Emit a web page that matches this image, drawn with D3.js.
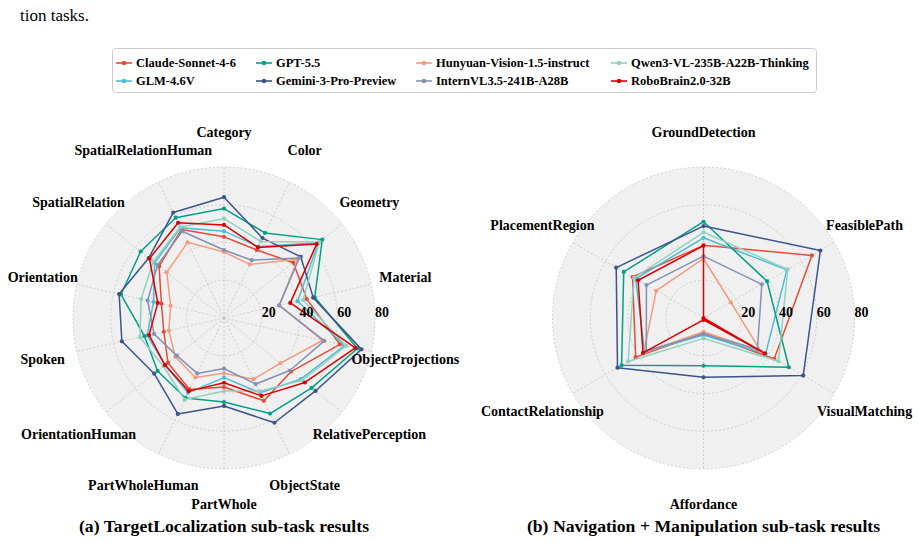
<!DOCTYPE html>
<html>
<head>
<meta charset="utf-8">
<script src="https://cdn.jsdelivr.net/npm/d3@7"></script>
<style>
  body { margin: 0; background: #fff; }
  svg text { font-family: "Liberation Serif", "Times New Roman", serif; fill: #000; }
</style>
</head>
<body>
<svg id="chart" width="918" height="542"></svg>
<script>
// ---------- DATA ----------
const models = [
  'Claude-Sonnet-4-6', 'GLM-4.6V', 'GPT-5.5', 'Gemini-3-Pro-Preview',
  'Hunyuan-Vision-1.5-instruct', 'InternVL3.5-241B-A28B',
  'Qwen3-VL-235B-A22B-Thinking', 'RoboBrain2.0-32B'
];
const modelColors = ['#E64B35', '#4DBBD5', '#00A087', '#3C5488', '#F39B7F', '#8491B4', '#91D1C2', '#DC0000'];

const catsA = [
  'Category', 'Color', 'Geometry', 'Material', 'ObjectProjections', 'RelativePerception',
  'ObjectState', 'PartWhole', 'PartWholeHuman', 'OrientationHuman', 'Spoken',
  'Orientation', 'SpatialRelation', 'SpatialRelationHuman'
];
const catsB = ['GroundDetection', 'FeasiblePath', 'VisualMatching', 'Affordance', 'ContactRelationship', 'PlacementRegion'];
const radialTicks = [20, 40, 60, 80];

// (a) TargetLocalization
const claudeA   = [43, 40, 47, 45, 63, 45.5, 48.7, 36.6, 42, 38, 32.7, 34, 44, 52];
const glmA      = [46, 42, 64, 40, 65.5, 52, 44, 31.6, 44, 40, 41.7, 38.3, 47, 53];
const gptA      = [58, 50, 66.6, 49.3, 72.5, 59.4, 56.2, 44.5, 47, 45, 43.2, 56, 56.5, 59];
const geminiA   = [64, 47, 52, 48.5, 74.7, 62, 61.6, 46.6, 56.4, 47.3, 55.5, 57, 51, 62];
const hunyuanA  = [35, 31.5, 50, 30, 53.5, 38.3, 36, 29.3, 35, 33, 30, 29, 38.8, 44.5];
const internA   = [36, 34, 51, 30, 54.5, 44.6, 38.8, 26.8, 32.6, 32, 38, 41.5, 45, 51];
const qwenA     = [52.6, 45, 64.5, 43, 66.4, 53, 43, 38.7, 48, 41, 45.7, 45, 48, 53.5];
const roboA     = [49.3, 41.5, 62.8, 36, 71.4, 54.8, 45.8, 34.3, 43, 40, 40.7, 36, 50.5, 56];

// (b) Navigation + Manipulation
const claudeB   = [38.5, 66.3, 43.3, 8, 41.5, 43.4];
const glmB      = [42.5, 51, 38, 9, 36, 41.5];
const gptB      = [51, 38.9, 52.2, 25.3, 50.1, 48.8];
const geminiB   = [48.7, 71.5, 61, 31.4, 52.6, 53.4];
const hunyuanB  = [31.4, 16.7, 35, 7.3, 36.5, 28.9];
const internB   = [32.8, 35.7, 33, 8.5, 35, 34.9];
const qwenB     = [45.4, 51.5, 45.9, 10.8, 46.1, 42.5];
const roboB     = [38.3, 0, 37.5, 1, 37, 40];

const seriesA = [claudeA, glmA, gptA, geminiA, hunyuanA, internA, qwenA, roboA];
const seriesB = [claudeB, glmB, gptB, geminiB, hunyuanB, internB, qwenB, roboB];

// ---------- PAGE ----------
const svg = d3.select('#chart');

svg.append('text')
  .attr('x', 20).attr('y', 21)
  .attr('font-size', 17)
  .text('tion tasks.');

// ---------- LEGEND ----------
(function drawLegend() {
  const g = svg.append('g');
  g.append('rect')
    .attr('x', 112.5).attr('y', 48.5)
    .attr('width', 704).attr('height', 44)
    .attr('rx', 3)
    .attr('fill', '#fff')
    .attr('stroke', '#cccccc');
  const colX = [115, 255, 415, 610];
  models.forEach((m, i) => {
    const x = colX[Math.floor(i / 2)];
    const y = 63 + (i % 2) * 18;
    g.append('line')
      .attr('x1', x + 1).attr('x2', x + 17)
      .attr('y1', y).attr('y2', y)
      .attr('stroke', modelColors[i]).attr('stroke-width', 1.6);
    g.append('circle')
      .attr('cx', x + 9).attr('cy', y).attr('r', 2.3)
      .attr('fill', modelColors[i]);
    g.append('text')
      .attr('x', x + 21).attr('y', y + 4.3)
      .attr('font-size', 12.5).attr('font-weight', 'bold')
      .text(m);
  });
})();

// ---------- RADAR ----------
function drawRadar(cx, cy, cats, series, title) {
  const R = 151;
  const labelR = 186;
  const r = d3.scaleLinear().domain([0, 80]).range([0, R]);
  const angle = d3.scaleLinear().domain([0, cats.length]).range([0, 2 * Math.PI]);
  const px = (a, rad) => rad * Math.sin(a);
  const py = (a, rad) => -rad * Math.cos(a);

  const g = svg.append('g').attr('transform', `translate(${cx},${cy})`);

  // background + grid
  g.append('circle').attr('r', R).attr('fill', '#f0f0f0');
  g.selectAll('circle.grid')
    .data(radialTicks)
    .join('circle')
    .attr('class', 'grid')
    .attr('r', (d) => r(d))
    .attr('fill', 'none')
    .attr('stroke', '#c4c4c4')
    .attr('stroke-width', 0.8)
    .attr('stroke-dasharray', '2,2');
  g.selectAll('line.spoke')
    .data(cats)
    .join('line')
    .attr('class', 'spoke')
    .attr('x1', 0).attr('y1', 0)
    .attr('x2', (d, i) => px(angle(i), R))
    .attr('y2', (d, i) => py(angle(i), R))
    .attr('stroke', '#c4c4c4')
    .attr('stroke-width', 0.8)
    .attr('stroke-dasharray', '2,2');

  // series
  const line = d3.lineRadial()
    .angle((d, i) => angle(i))
    .radius((d) => r(d))
    .curve(d3.curveLinearClosed);

  series.forEach((vals, k) => {
    g.append('path')
      .attr('d', line(vals))
      .attr('fill', 'none')
      .attr('stroke', modelColors[k])
      .attr('stroke-width', 1.5)
      .attr('stroke-linejoin', 'round');
    g.selectAll(null)
      .data(vals)
      .join('circle')
      .attr('cx', (d, i) => px(angle(i), r(d)))
      .attr('cy', (d, i) => py(angle(i), r(d)))
      .attr('r', 2.1)
      .attr('fill', modelColors[k]);
  });

  // radial tick labels
  g.selectAll('text.tick')
    .data(radialTicks)
    .join('text')
    .attr('class', 'tick')
    .attr('x', (d) => r(d) + 7)
    .attr('y', -5.5)
    .attr('dy', '0.35em')
    .attr('text-anchor', 'middle')
    .attr('font-size', 14).attr('font-weight', 'bold')
    .text((d) => d);

  // category labels
  g.selectAll('text.cat')
    .data(cats)
    .join('text')
    .attr('class', 'cat')
    .attr('x', (d, i) => px(angle(i), labelR))
    .attr('y', (d, i) => py(angle(i), labelR))
    .attr('dy', '0.35em')
    .attr('text-anchor', 'middle')
    .attr('font-size', 14).attr('font-weight', 'bold')
    .text((d) => d);

  svg.append('text')
    .attr('x', cx).attr('y', 532)
    .attr('text-anchor', 'middle')
    .attr('font-size', 17.7).attr('font-weight', 'bold')
    .text(title);
}

drawRadar(224, 318, catsA, seriesA, '(a) TargetLocalization sub-task results');
drawRadar(703.5, 318, catsB, seriesB, '(b) Navigation + Manipulation sub-task results');
</script>
</body>
</html>
